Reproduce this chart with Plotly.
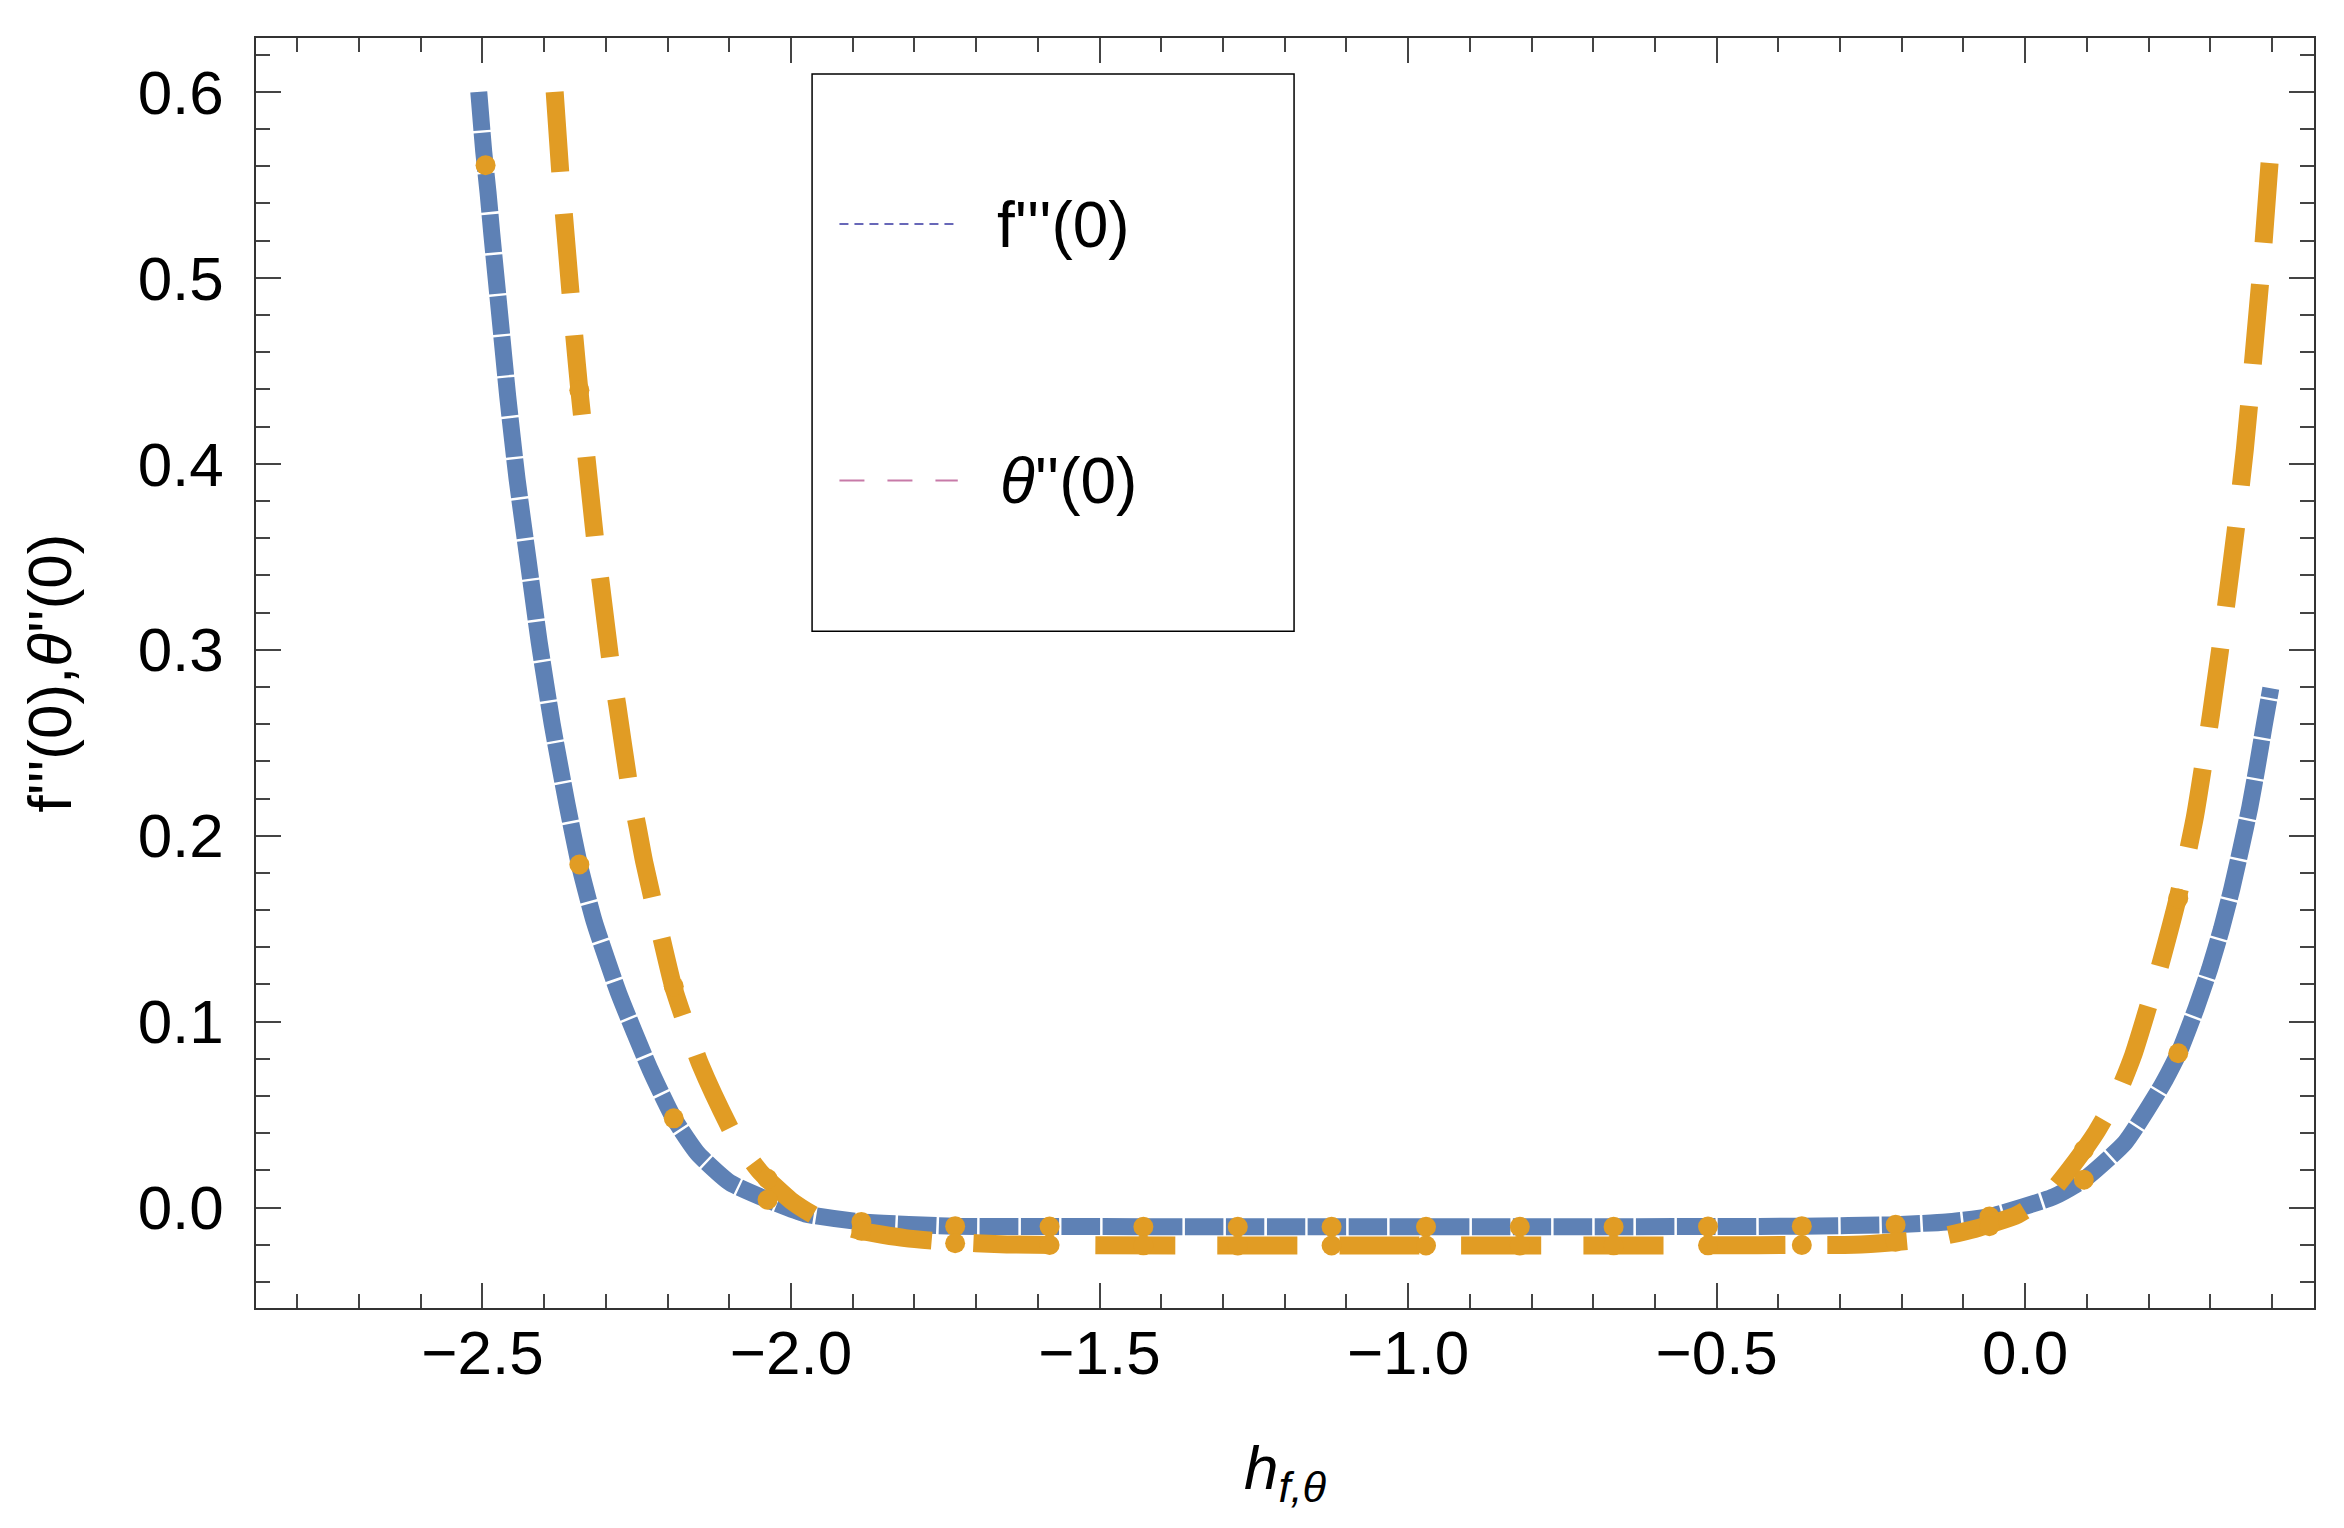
import plotly.graph_objects as go

# f'''(0) curve (blue)
f_x = [-2.506, -2.498, -2.491, -2.485, -2.472, -2.459, -2.444, -2.426, -2.408, -2.387,
       -2.363, -2.343, -2.319, -2.279, -2.228, -2.190, -2.151, -2.099, -2.038, -1.977,
       -1.886, -1.734, -1.580, -1.200, -0.800, -0.500, -0.362, -0.210, -0.128, -0.058,
       0.046, 0.095, 0.162, 0.222, 0.250, 0.277, 0.299, 0.318, 0.335, 0.350,
       0.364, 0.376, 0.387, 0.398]
f_y = [0.600, 0.568, 0.546, 0.524, 0.480, 0.436, 0.392, 0.348, 0.304, 0.260,
       0.217, 0.1845, 0.154, 0.115, 0.074, 0.048, 0.029, 0.0134, 0.0042, -0.0034,
       -0.0077, -0.0100, -0.0102, -0.0103, -0.0103, -0.0102, -0.0100, -0.0092, -0.0077, -0.0048,
       0.0058, 0.0150, 0.035, 0.066, 0.084, 0.1072, 0.1285, 0.1498, 0.1717, 0.1937,
       0.2153, 0.2372, 0.2588, 0.2793]

# theta''(0) curve (orange dashed)
t_x = [-2.383, -2.374, -2.368, -2.357, -2.351, -2.343, -2.331, -2.317, -2.3085, -2.292,
       -2.2816, -2.262, -2.2486, -2.238, -2.191, -2.172, -2.147, -2.092, -2.050, -2.000,
       -1.954, -1.888, -1.815, -1.752, -1.650, -1.500, -1.000, -0.500, -0.362, -0.278,
       -0.214, -0.151, -0.082, -0.012, 0.040, 0.082, 0.115, 0.149, 0.175, 0.213,
       0.247, 0.275, 0.301, 0.324, 0.341, 0.356, 0.371, 0.386, 0.400]
t_y = [0.600, 0.557, 0.534, 0.4905, 0.468, 0.4396, 0.402, 0.358, 0.3364, 0.2925,
       0.2703, 0.2267, 0.2047, 0.186, 0.119, 0.0999, 0.077, 0.0384, 0.0192, 0.0038,
       -0.0058, -0.0125, -0.0164, -0.0183, -0.0198, -0.0203, -0.0204, -0.0203, -0.0201, -0.0200,
       -0.0186, -0.0165, -0.0115, -0.0038, 0.0077, 0.0250, 0.0405, 0.0605, 0.0820, 0.1234,
       0.1662, 0.2101, 0.2650, 0.3198, 0.3640, 0.4079, 0.4614, 0.5177, 0.5800]

# sampled points (orange dots) on both curves
pf_x = [-2.495, -2.343, -2.190, -2.038, -1.886, -1.734, -1.581, -1.429, -1.276, -1.124,
        -0.971, -0.819, -0.667, -0.514, -0.362, -0.210, -0.058, 0.095, 0.248]
pf_y = [0.5606, 0.1845, 0.048, 0.0042, -0.0077, -0.0100, -0.0102, -0.0103, -0.0103, -0.0103,
        -0.0103, -0.0103, -0.0103, -0.0102, -0.0100, -0.0092, -0.0048, 0.0150, 0.0830]
pt_x = [-2.343, -2.190, -2.038, -1.886, -1.734, -1.581, -1.429, -1.276, -1.124,
        -0.971, -0.819, -0.667, -0.514, -0.362, -0.210, -0.058, 0.095, 0.248]
pt_y = [0.4396, 0.119, 0.0155, -0.0125, -0.0192, -0.0201, -0.0203, -0.0204, -0.0204,
        -0.0204, -0.0204, -0.0203, -0.0203, -0.0201, -0.0184, -0.0100, 0.031, 0.1662]

legend_labels = ["f'''(0)", "<i>θ</i>''(0)"]

BLUE = "#5e81b5"
ORANGE = "#e19c24"
FONT = "Liberation Sans, Arial, sans-serif"
FS = 62

fig = go.Figure()
fig.add_trace(go.Scatter(x=f_x, y=f_y, mode="lines",
                         line=dict(color=BLUE, width=17, dash="38.5px,2.5px",
                                   shape="spline", smoothing=0.5),
                         showlegend=False))
fig.add_trace(go.Scatter(x=t_x, y=t_y, mode="lines",
                         line=dict(color=ORANGE, width=18, dash="80px,42px",
                                   shape="spline", smoothing=0.5),
                         showlegend=False))
fig.add_trace(go.Scatter(x=pf_x, y=pf_y, mode="markers",
                         marker=dict(color=ORANGE, size=20), showlegend=False))
fig.add_trace(go.Scatter(x=pt_x, y=pt_y, mode="markers",
                         marker=dict(color=ORANGE, size=20), showlegend=False))

axis_common = dict(
    showline=True, linecolor="#333333", linewidth=1.5, mirror="allticks",
    ticks="inside", ticklen=25, tickwidth=1.5, tickcolor="#444444",
    showgrid=False, zeroline=False,
    tickfont=dict(family=FONT, size=FS, color="black"),
    tickformat=".1f",
    minor=dict(ticks="inside", ticklen=14, tickwidth=1.5, tickcolor="#444444", showgrid=False),
)

fig.update_xaxes(range=[-2.867, 0.468], dtick=0.5, tick0=0, ticklabelstandoff=-10, **axis_common)
fig.update_xaxes(minor_dtick=0.1,
                 title=dict(text="<i>h</i><sub><i>f,θ</i></sub>",
                            font=dict(family=FONT, size=FS, color="black"), standoff=59))
fig.update_yaxes(range=[-0.054, 0.629], dtick=0.1, tick0=0, ticklabelstandoff=18, **axis_common)
fig.update_yaxes(minor_dtick=0.02,
                 title=dict(text="f'''(0),<i>θ</i>''(0)",
                            font=dict(family=FONT, size=FS, color="black"), standoff=46))

# legend box drawn by hand, styled as in the original
fig.add_shape(type="rect", xref="paper", yref="paper", x0=0.2702, x1=0.5044, y0=0.5328, y1=0.9717,
              line=dict(color="black", width=1.5), fillcolor="rgba(0,0,0,0)")
fig.add_shape(type="line", xref="paper", yref="paper", x0=0.2835, x1=0.3410, y0=0.8536, y1=0.8536,
              line=dict(color="#6767b8", width=2, dash="9px,6px"))
fig.add_shape(type="line", xref="paper", yref="paper", x0=0.2835, x1=0.3410, y0=0.6515, y1=0.6515,
              line=dict(color="#c77aa8", width=2, dash="25px,23px"))
fig.add_annotation(xref="paper", yref="paper", x=0.3590, y=0.8525, xanchor="left", yanchor="middle",
                   text=legend_labels[0], showarrow=False,
                   font=dict(family=FONT, size=FS + 2, color="black"))
fig.add_annotation(xref="paper", yref="paper", x=0.3605, y=0.6511, xanchor="left", yanchor="middle",
                   text=legend_labels[1], showarrow=False,
                   font=dict(family=FONT, size=FS + 2, color="black"))

fig.update_layout(
    width=2344, height=1528,
    margin=dict(l=248, r=38, t=30, b=228),
    paper_bgcolor="white", plot_bgcolor="white",
    showlegend=False,
)

fig.write_html("out.html")
